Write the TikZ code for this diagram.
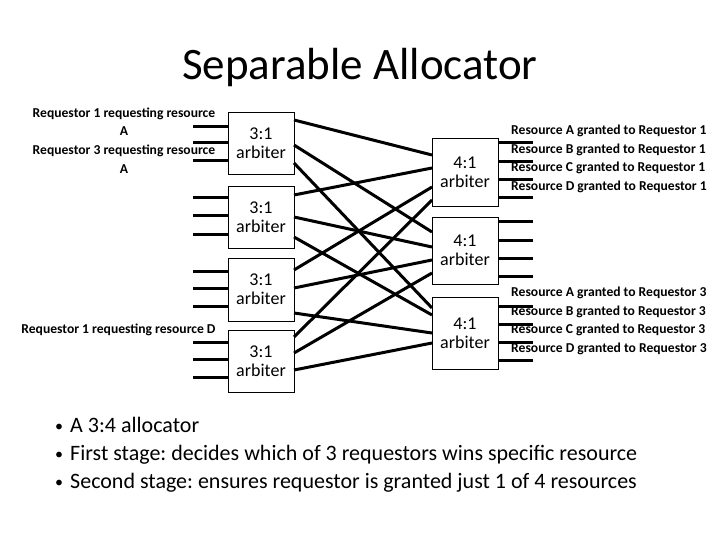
\documentclass[tikz,border=0pt]{standalone}
\usepackage{fontspec}
\setmainfont{Carlito}
\frenchspacing
\begin{document}
\begin{tikzpicture}[x=1pt,y=-1pt,
  arb/.style={draw=black,line width=0.8pt,minimum width=66pt,inner sep=0pt,align=center,font=\fontsize{18}{19}\selectfont},
  wire/.style={line width=3pt},
  lab/.style={font=\bfseries\fontsize{13.6}{18.5}\selectfont,inner sep=0pt},
  bul/.style={font=\fontsize{22}{24}\selectfont,inner sep=0pt,anchor=base west}]
\useasboundingbox (0,0) rectangle (720,540);
\node[font=\fontsize{45}{48}\selectfont] (title) at (360,68) {Separable Allocator};
% left arbiters
\node[arb,minimum height=62pt] (L1) at (261,143) {3:1\\arbiter};
\node[arb,minimum height=62pt] (L2) at (261,217) {3:1\\arbiter};
\node[arb,minimum height=63pt] (L3) at (261,289.5) {3:1\\arbiter};
\node[arb,minimum height=62pt] (L4) at (261,361) {3:1\\arbiter};
% right arbiters
\node[arb,minimum height=68pt] (R1) at (465,172) {4:1\\arbiter};
\node[arb,minimum height=67pt] (R2) at (465,250.5) {4:1\\arbiter};
\node[arb,minimum height=72pt] (R3) at (465,333) {4:1\\arbiter};
% input stubs
\foreach \n/\ya/\yb/\yc in {1/127/143/161, 2/198/216/234, 3/271/288/306, 4/342/359/377}{
  \foreach \k/\y in {1/\ya,2/\yb,3/\yc}{
    \coordinate (in\n\k) at (193,\y);
    \draw[wire] (in\n\k) -- (L\n.west |- in\n\k);
  }
}
% output stubs
\foreach \n/\ya/\yb/\yc/\yd in {1/143/162/180/198, 2/222/240/258/276, 3/306/324/342/360}{
  \foreach \k/\y in {1/\ya,2/\yb,3/\yc,4/\yd}{
    \coordinate (out\n\k) at (533,\y);
    \draw[wire] (R\n.east |- out\n\k) -- (out\n\k);
  }
}
% ports
\coordinate (L1a) at (294,120); \coordinate (L1b) at (294,145); \coordinate (L1c) at (294,163);
\coordinate (L2a) at (294,195); \coordinate (L2b) at (294,217); \coordinate (L2c) at (294,237);
\coordinate (L3a) at (294,270); \coordinate (L3b) at (294,288); \coordinate (L3c) at (294,313);
\coordinate (L4a) at (294,337); \coordinate (L4b) at (294,353); \coordinate (L4c) at (294,370);
\coordinate (R1a) at (432,155); \coordinate (R1b) at (432,168); \coordinate (R1c) at (432,187); \coordinate (R1d) at (432,200);
\coordinate (R2a) at (432,232); \coordinate (R2b) at (432,247); \coordinate (R2c) at (432,260); \coordinate (R2d) at (432,273);
\coordinate (R3a) at (432,308); \coordinate (R3b) at (432,315); \coordinate (R3c) at (432,333); \coordinate (R3d) at (432,343);
\draw[wire] (L1a) -- (R1a);
\draw[wire] (L2a) -- (R1b);
\draw[wire] (L3a) -- (R1c);
\draw[wire] (L4a) -- (R1d);
\draw[wire] (L1b) -- (R2a);
\draw[wire] (L2b) -- (R2b);
\draw[wire] (L3b) -- (R2c);
\draw[wire] (L4b) -- (R2d);
\draw[wire] (L1c) -- (R3a);
\draw[wire] (L2c) -- (R3b);
\draw[wire] (L3c) -- (R3c);
\draw[wire] (L4c) -- (R3d);
% labels
\node[lab,align=center] (la1) at (124,121.5) {Requestor 1 requesting resource\\A};
\node[lab,align=center] (la2) at (124,159) {Requestor 3 requesting resource\\A};
\node[lab] (la3) at (118.5,330) {Requestor 1 requesting resource D};
\node[lab,align=left,anchor=west] (ra1) at (511,159) {Resource A granted to Requestor 1\\Resource B granted to Requestor 1\\Resource C granted to Requestor 1\\Resource D granted to Requestor 1};
\node[lab,align=left,anchor=west] (ra3) at (511,321) {Resource A granted to Requestor 3\\Resource B granted to Requestor 3\\Resource C granted to Requestor 3\\Resource D granted to Requestor 3};
% bullets
\node[bul,font=\fontsize{16}{18}\selectfont] (b1d) at (55,431) {•};
\node[bul] (b1) at (70,432) {A 3:4 allocator};
\node[bul,font=\fontsize{16}{18}\selectfont] (b2d) at (55,459) {•};
\node[bul] (b2) at (70,460) {First stage: decides which of 3 requestors wins specific resource};
\node[bul,font=\fontsize{16}{18}\selectfont] (b3d) at (55,487) {•};
\node[bul] (b3) at (70,488) {Second stage: ensures requestor is granted just 1 of 4 resources};
\end{tikzpicture}
\end{document}
